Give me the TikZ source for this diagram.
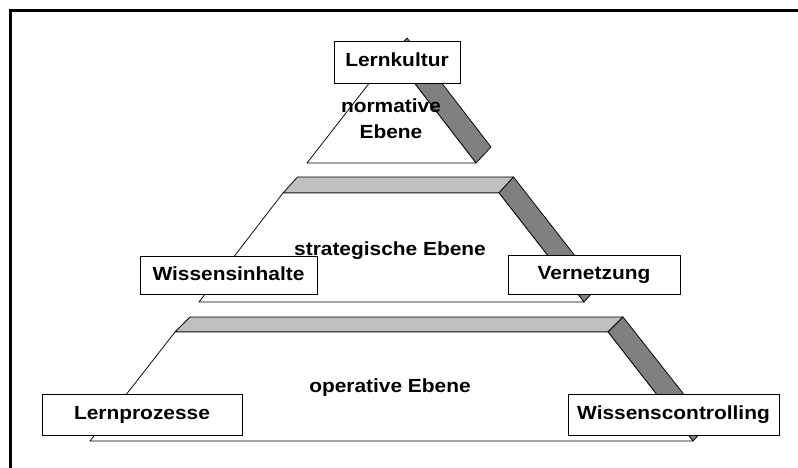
\documentclass[tikz,border=0pt]{standalone}
\usepackage{fontspec}
\setmainfont{Liberation Sans}[FakeStretch=1.1]
\definecolor{sidegray}{HTML}{808080}
\definecolor{topgray}{HTML}{C0C0C0}
\begin{document}
\begin{tikzpicture}[x=1pt,y=-1pt,
  face/.style={draw=black, line width=0.75pt, line join=round},
  lbl/.style={font=\fontsize{19}{26}\selectfont\bfseries, inner sep=0pt},
  box/.style={draw=black, fill=white, line width=0.8pt, inner sep=0pt,
    font=\fontsize{19}{26}\selectfont\bfseries, text height=14pt, text depth=4pt}]
\useasboundingbox (0,0) rectangle (798,468);

% frame (top and left edges)
\draw[line width=2.7pt] (10.3,468) -- (10.3,10.7) -- (798,10.7);

% normative level: extruded triangle
\coordinate (nA)  at (392,54);
\coordinate (nL)  at (307,163);
\coordinate (nR)  at (476,163);
\coordinate (nAb) at (407,38);
\coordinate (nRb) at (491,147);
\filldraw[face, fill=sidegray] (nA) -- (nAb) -- (nRb) -- (nR) -- cycle;
\filldraw[face, fill=white] (nA) -- (nL) -- (nR) -- cycle;

% strategic level: extruded trapezoid
\coordinate (sTL)  at (283,193);
\coordinate (sTR)  at (499,193);
\coordinate (sBR)  at (584,302);
\coordinate (sBL)  at (199,302);
\coordinate (sTLb) at (297.5,177);
\coordinate (sTRb) at (513.5,177);
\coordinate (sBRb) at (598.5,286);
\filldraw[face, fill=topgray] (sTL) -- (sTLb) -- (sTRb) -- (sTR) -- cycle;
\filldraw[face, fill=sidegray] (sTR) -- (sTRb) -- (sBRb) -- (sBR) -- cycle;
\filldraw[face, fill=white] (sTL) -- (sTR) -- (sBR) -- (sBL) -- cycle;

% operative level: extruded trapezoid
\coordinate (oTL)  at (175,332);
\coordinate (oTR)  at (608,332);
\coordinate (oBR)  at (693,441);
\coordinate (oBL)  at (90,441);
\coordinate (oTLb) at (190,317);
\coordinate (oTRb) at (623,317);
\coordinate (oBRb) at (708,425);
\filldraw[face, fill=topgray] (oTL) -- (oTLb) -- (oTRb) -- (oTR) -- cycle;
\filldraw[face, fill=sidegray] (oTR) -- (oTRb) -- (oBRb) -- (oBR) -- cycle;
\filldraw[face, fill=white] (oTL) -- (oTR) -- (oBR) -- (oBL) -- cycle;

% level names
\node[lbl, align=center] (normLbl) at (391,119) {normative\\Ebene};
\node[lbl, anchor=base] (stratLbl) at (390,255) {strategische Ebene};
\node[lbl, anchor=base] (opLbl) at (390,392.7) {operative Ebene};

% boxes
\node[box, minimum width=126pt, minimum height=42pt] (kultur) at (397,62) {Lernkultur};
\node[box, minimum width=177pt, minimum height=38pt] (inhalte) at (228.5,275) {Wissensinhalte};
\node[box, minimum width=172pt, minimum height=39pt] (vernetz) at (594,274.5) {Vernetzung};
\node[box, minimum width=200pt, minimum height=41pt] (prozesse) at (142,414.5) {Lernprozesse};
\node[box, minimum width=211pt, minimum height=41pt] (controlling) at (673.5,414.5) {Wissenscontrolling};
\end{tikzpicture}
\end{document}
